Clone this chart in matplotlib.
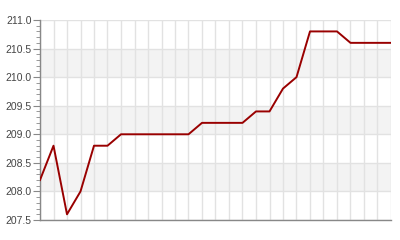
import matplotlib
matplotlib.use("Agg")
import matplotlib.pyplot as plt
from matplotlib.ticker import MultipleLocator

values = [208.2, 208.8, 207.6, 208.0, 208.8, 208.8, 209.0, 209.0, 209.0,
          209.0, 209.0, 209.0, 209.2, 209.2, 209.2, 209.2, 209.4, 209.4,
          209.8, 210.0, 210.8, 210.8, 210.8, 210.6, 210.6, 210.6, 210.6]
x = list(range(len(values)))
bands = [(208.0, 208.5), (209.0, 209.5), (210.0, 210.5)]

plt.rcParams["font.family"] = ["Liberation Sans", "DejaVu Sans"]

fig = plt.figure(figsize=(4, 2.4), dpi=100)
ax = fig.add_axes([0.1, 0.0833, 0.8775, 0.8334])

for lo, hi in bands:
    ax.axhspan(lo, hi, color="#f3f3f3", lw=0, zorder=0)

ax.set_xlim(0, len(values) - 1)
ax.set_ylim(207.5, 211.0)
ax.xaxis.set_major_locator(MultipleLocator(1))
ax.yaxis.set_major_locator(MultipleLocator(0.5))
ax.yaxis.set_minor_locator(MultipleLocator(0.1))
ax.grid(True, which="major", color="#e2e2e2", lw=1.0, zorder=1)
ax.set_axisbelow(True)

ax.plot(x, values, color="#990000", lw=1.4, zorder=3)

for s in ["top", "right"]:
    ax.spines[s].set_visible(False)
for s in ["left", "bottom"]:
    ax.spines[s].set_color("#888888")
    ax.spines[s].set_linewidth(1.0)

ax.tick_params(axis="x", length=0, labelbottom=False)
ax.tick_params(axis="y", which="major", length=5, color="#888888",
               labelsize=7.5, labelcolor="#444444", pad=1)
ax.tick_params(axis="y", which="minor", length=3, color="#888888")
ax.yaxis.set_major_formatter(matplotlib.ticker.FormatStrFormatter("%.1f"))

fig.savefig("out.png", dpi=100)
